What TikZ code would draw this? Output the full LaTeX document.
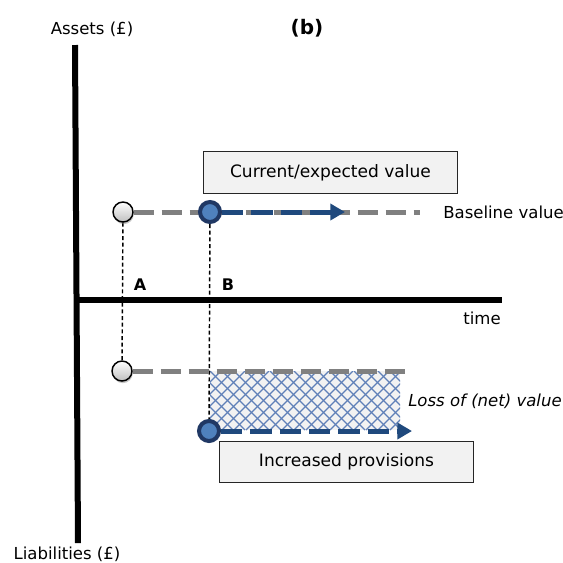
\documentclass[tikz,border=0pt]{standalone}
\usepackage{fontspec}
\setmainfont{DejaVu Sans}
\usetikzlibrary{arrows.meta,backgrounds,shadows}

\definecolor{navy}{HTML}{1F497D}
\definecolor{navyring}{HTML}{203864}
\definecolor{midblue}{HTML}{4F81BD}
\definecolor{hatchblue}{HTML}{5F80B8}
\definecolor{panel}{HTML}{F2F2F2}
\definecolor{lead}{HTML}{808080}

\tikzset{
  axis/.style={line width=4.5pt, black},
  greydash/.style={lead, line width=3.75pt, dash pattern=on 15pt off 6pt},
  bluedash/.style={navy, line width=3.75pt, dash pattern=on 16pt off 6pt,
    -{Triangle[length=11pt,width=12pt]}},
  dropline/.style={black, line width=1.1pt, dash pattern=on 3pt off 2pt},
  greydot/.style={circle, draw=black, line width=1.1pt, minimum size=15pt,
    inner sep=0pt, top color=white, bottom color=black!25,
    drop shadow={shadow xshift=0.6pt, shadow yshift=-1.6pt, opacity=0.45}},
  bluedot/.style={circle, draw=navyring, fill=midblue, line width=3pt,
    minimum size=15pt, inner sep=0pt},
  callout/.style={draw=black!85, fill=panel, line width=0.6pt,
    minimum width=190pt, minimum height=31pt, inner sep=0pt,
    font=\fontsize{12.8}{15}\selectfont},
  txt/.style={font=\fontsize{12.4}{15}\selectfont, inner sep=0pt},
  pointmark/.style={font=\bfseries\fontsize{12}{14}\selectfont, inner sep=0pt},
  hatchline/.style={hatchblue, line width=0.9pt}
}

\begin{document}
\begin{tikzpicture}[x=0.75pt, y=-0.75pt]
  \useasboundingbox (0,0) rectangle (563,562);

  % axes
  \coordinate (ytop) at (75,45);
  \coordinate (ybot) at (78,543);
  \coordinate (origin) at (76.5,300);
  \coordinate (tend) at (502,300);
  \draw[axis] (ytop) -- (ybot);
  \draw[axis] (origin) -- (tend);

  \node[txt] (assets) at (92,29) {Assets (£)};
  \node[txt] (liab) at (67,554) {Liabilities (£)};
  \node[txt, anchor=east] (timelbl) at (501,318) {time};
  \node[font=\bfseries\fontsize{15}{18}\selectfont, inner sep=0pt] (panelb) at (307,28) {(b)};

  % value points
  \node[greydot] (a1) at (123,212) {};
  \node[bluedot] (b1) at (210,212) {};
  \node[greydot] (a2) at (122,371) {};
  \node[bluedot] (b2) at (209,431) {};
  \coordinate (a1end) at (420,212);
  \coordinate (b1end) at (345,212);
  \coordinate (a2end) at (412,371);
  \coordinate (b2end) at (412,431);

  \node[pointmark] (markA) at (140,285) {A};
  \node[pointmark] (markB) at (228,285) {B};

  \node[callout] (current) at (330.5,172.5) {Current/expected value};
  \node[callout] (provisions) at (346.5,462) {Increased provisions};
  \node[txt, anchor=west] (baseline) at (443,212) {Baseline value};
  \node[txt, anchor=west, font=\fontsize{12.4}{15}\selectfont\itshape] (loss) at (408,401) {Loss of (net) value};

  \begin{scope}[on background layer]
    % loss region
    \fill[panel] (210,371) rectangle (400,430);
    \begin{scope}
      \clip (210,371) rectangle (400,430);
      \foreach \x in {150,162,...,402} {
        \draw[hatchline] (\x,371) -- ++(59,59);
        \draw[hatchline] (\x,430) -- ++(59,-59);
      }
    \end{scope}
    \draw[dropline] (a1) -- (a2);
    \draw[dropline] (b1) -- (b2);
    \draw[greydash] (a1) -- (a1end);
    \draw[greydash] (a2) -- (a2end);
    \draw[bluedash] (b1) -- (b1end);
    \draw[bluedash] (b2) -- (b2end);
  \end{scope}
\end{tikzpicture}
\end{document}
